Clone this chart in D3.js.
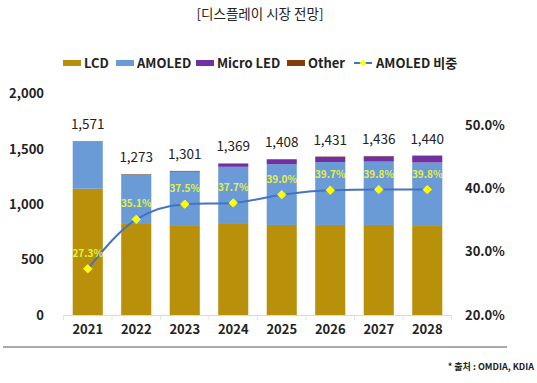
<!DOCTYPE html>
<html><head><meta charset="utf-8">
<script src="https://cdn.jsdelivr.net/npm/d3@7"></script>
<style>body{margin:0;background:#fff}svg{display:block}</style>
</head><body><svg id="c" width="537" height="383"></svg>
<script>
const years = ["2021","2022","2023","2024","2025","2026","2027","2028"];
const lcd = [1140, 822, 804, 822, 813, 813, 813, 804];
const amoled = [429, 447, 488, 516, 549, 568, 572, 573];
const micro = [0, 0, 3, 28, 43, 47, 48, 60];
const other = [2, 4, 6, 3, 3, 3, 3, 3];
const totals = [1571, 1273, 1301, 1369, 1408, 1431, 1436, 1440];
const share = [27.3, 35.1, 37.5, 37.7, 39.0, 39.7, 39.8, 39.8];
const leftTicks = [0, 500, 1000, 1500, 2000];
const rightTicks = [20, 30, 40, 50];
const seriesNames = ["LCD", "AMOLED", "Micro LED", "Other"];
const colors = ["#b8900a", "#6b9bd6", "#7030a0", "#843c0c"];

const svg = d3.select("#c");
const font = "'Noto Sans CJK KR','Noto Sans',sans-serif";

const x = d3.scaleBand().domain(years).range([63.5, 451.5]).paddingInner(0.38).paddingOuter(0.19);
const y = d3.scaleLinear().domain([0, 2000]).range([315, 93.5]);
const y2 = d3.scaleLinear().domain([20, 50]).range([315, 125]);

// title
svg.append("text").attr("x", 260).attr("y", 19).attr("text-anchor", "middle")
  .attr("font-family", font).attr("font-size", 13.5).attr("fill", "#222").text("[디스플레이 시장 전망]");

// stacked bars
const rows = years.map((yr, i) => ({year: yr, LCD: lcd[i], AMOLED: amoled[i], "Micro LED": micro[i], Other: other[i]}));
const stack = d3.stack().keys(seriesNames)(rows);
stack.forEach((layer, k) => {
  svg.append("g").attr("fill", colors[k]).selectAll("rect").data(layer).join("rect")
    .attr("x", d => x(d.data.year)).attr("width", x.bandwidth())
    .attr("y", d => y(d[1])).attr("height", d => Math.max(0, y(d[0]) - y(d[1])));
});

// x axis
const xAxis = svg.append("g").attr("transform", "translate(0,315)")
  .call(d3.axisBottom(x).tickSize(0).tickPadding(10));
xAxis.select(".domain").attr("stroke", "#d9d9d9");
xAxis.selectAll("text").attr("font-family", font).attr("font-size", 13).attr("font-weight", "bold").attr("fill", "#222");
const step = x.step();
svg.append("g").selectAll("line").data(d3.range(years.length + 1)).join("line")
  .attr("x1", i => 63.5 + i * step).attr("x2", i => 63.5 + i * step)
  .attr("y1", 315).attr("y2", 320).attr("stroke", "#e3e3e3");

// left axis
const yAxis = svg.append("g").attr("transform", "translate(47,0)")
  .call(d3.axisLeft(y).tickValues(leftTicks).tickFormat(d3.format(",")).tickSize(0));
yAxis.select(".domain").remove();
yAxis.selectAll("text").attr("font-family", font).attr("font-size", 13).attr("font-weight", "bold").attr("fill", "#222");

// right axis
const y2Axis = svg.append("g").attr("transform", "translate(462,0)")
  .call(d3.axisRight(y2).tickValues(rightTicks).tickFormat(d => d.toFixed(1) + "%").tickSize(0));
y2Axis.select(".domain").remove();
y2Axis.selectAll("text").attr("font-family", font).attr("font-size", 13).attr("font-weight", "bold").attr("fill", "#222");

// total labels
svg.append("g").selectAll("text").data(years).join("text")
  .attr("x", d => x(d) + x.bandwidth() / 2)
  .attr("y", (d, i) => y(totals[i]) - 12)
  .attr("text-anchor", "middle").attr("font-family", font).attr("font-size", 13.5)
  .attr("fill", "#222").text((d, i) => d3.format(",")(totals[i]));

// line
const cx = d => x(d) + x.bandwidth() / 2;
const line = d3.line().x((d, i) => cx(years[i])).y(d => y2(d)).curve(d3.curveMonotoneX);
svg.append("path").datum(share).attr("d", line).attr("fill", "none").attr("stroke", "#4472c4").attr("stroke-width", 2);
svg.append("g").selectAll("path").data(share).join("path")
  .attr("transform", (d, i) => `translate(${cx(years[i])},${y2(d)})`)
  .attr("d", d3.symbol(d3.symbolDiamond2, 45)).attr("fill", "#ffff00").attr("stroke", "#ffff00");
svg.append("g").selectAll("text").data(share).join("text")
  .attr("x", (d, i) => cx(years[i])).attr("y", d => y2(d) - 12)
  .attr("text-anchor", "middle").attr("font-family", font).attr("font-size", 10).attr("font-weight", "bold")
  .attr("fill", "#e2f048").text(d => d.toFixed(1) + "%");

// legend
const leg = svg.append("g").attr("font-family", font).attr("font-size", 13).attr("font-weight", "bold").attr("fill", "#222");
const legX = [63, 116, 196, 287];
seriesNames.forEach((n, k) => {
  leg.append("rect").attr("x", legX[k]).attr("y", 60).attr("width", 18).attr("height", 6).attr("fill", colors[k]);
  leg.append("text").attr("x", legX[k] + 21).attr("y", 68).text(n);
});
leg.append("line").attr("x1", 354).attr("x2", 372).attr("y1", 63).attr("y2", 63).attr("stroke", "#4472c4").attr("stroke-width", 2);
leg.append("path").attr("transform", "translate(363,63)").attr("d", d3.symbol(d3.symbolDiamond2, 30)).attr("fill", "#ffff00");
leg.append("text").attr("x", 376).attr("y", 68).text("AMOLED 비중");

// bottom rule & source
svg.append("line").attr("x1", 3).attr("x2", 507).attr("y1", 347).attr("y2", 347).attr("stroke", "#555").attr("stroke-width", 1.2);
svg.append("text").attr("x", 534).attr("y", 370).attr("text-anchor", "end").attr("font-family", font)
  .attr("font-size", 9).attr("font-weight", "bold").attr("fill", "#222").text("* 출처 : OMDIA, KDIA");
</script></body></html>
